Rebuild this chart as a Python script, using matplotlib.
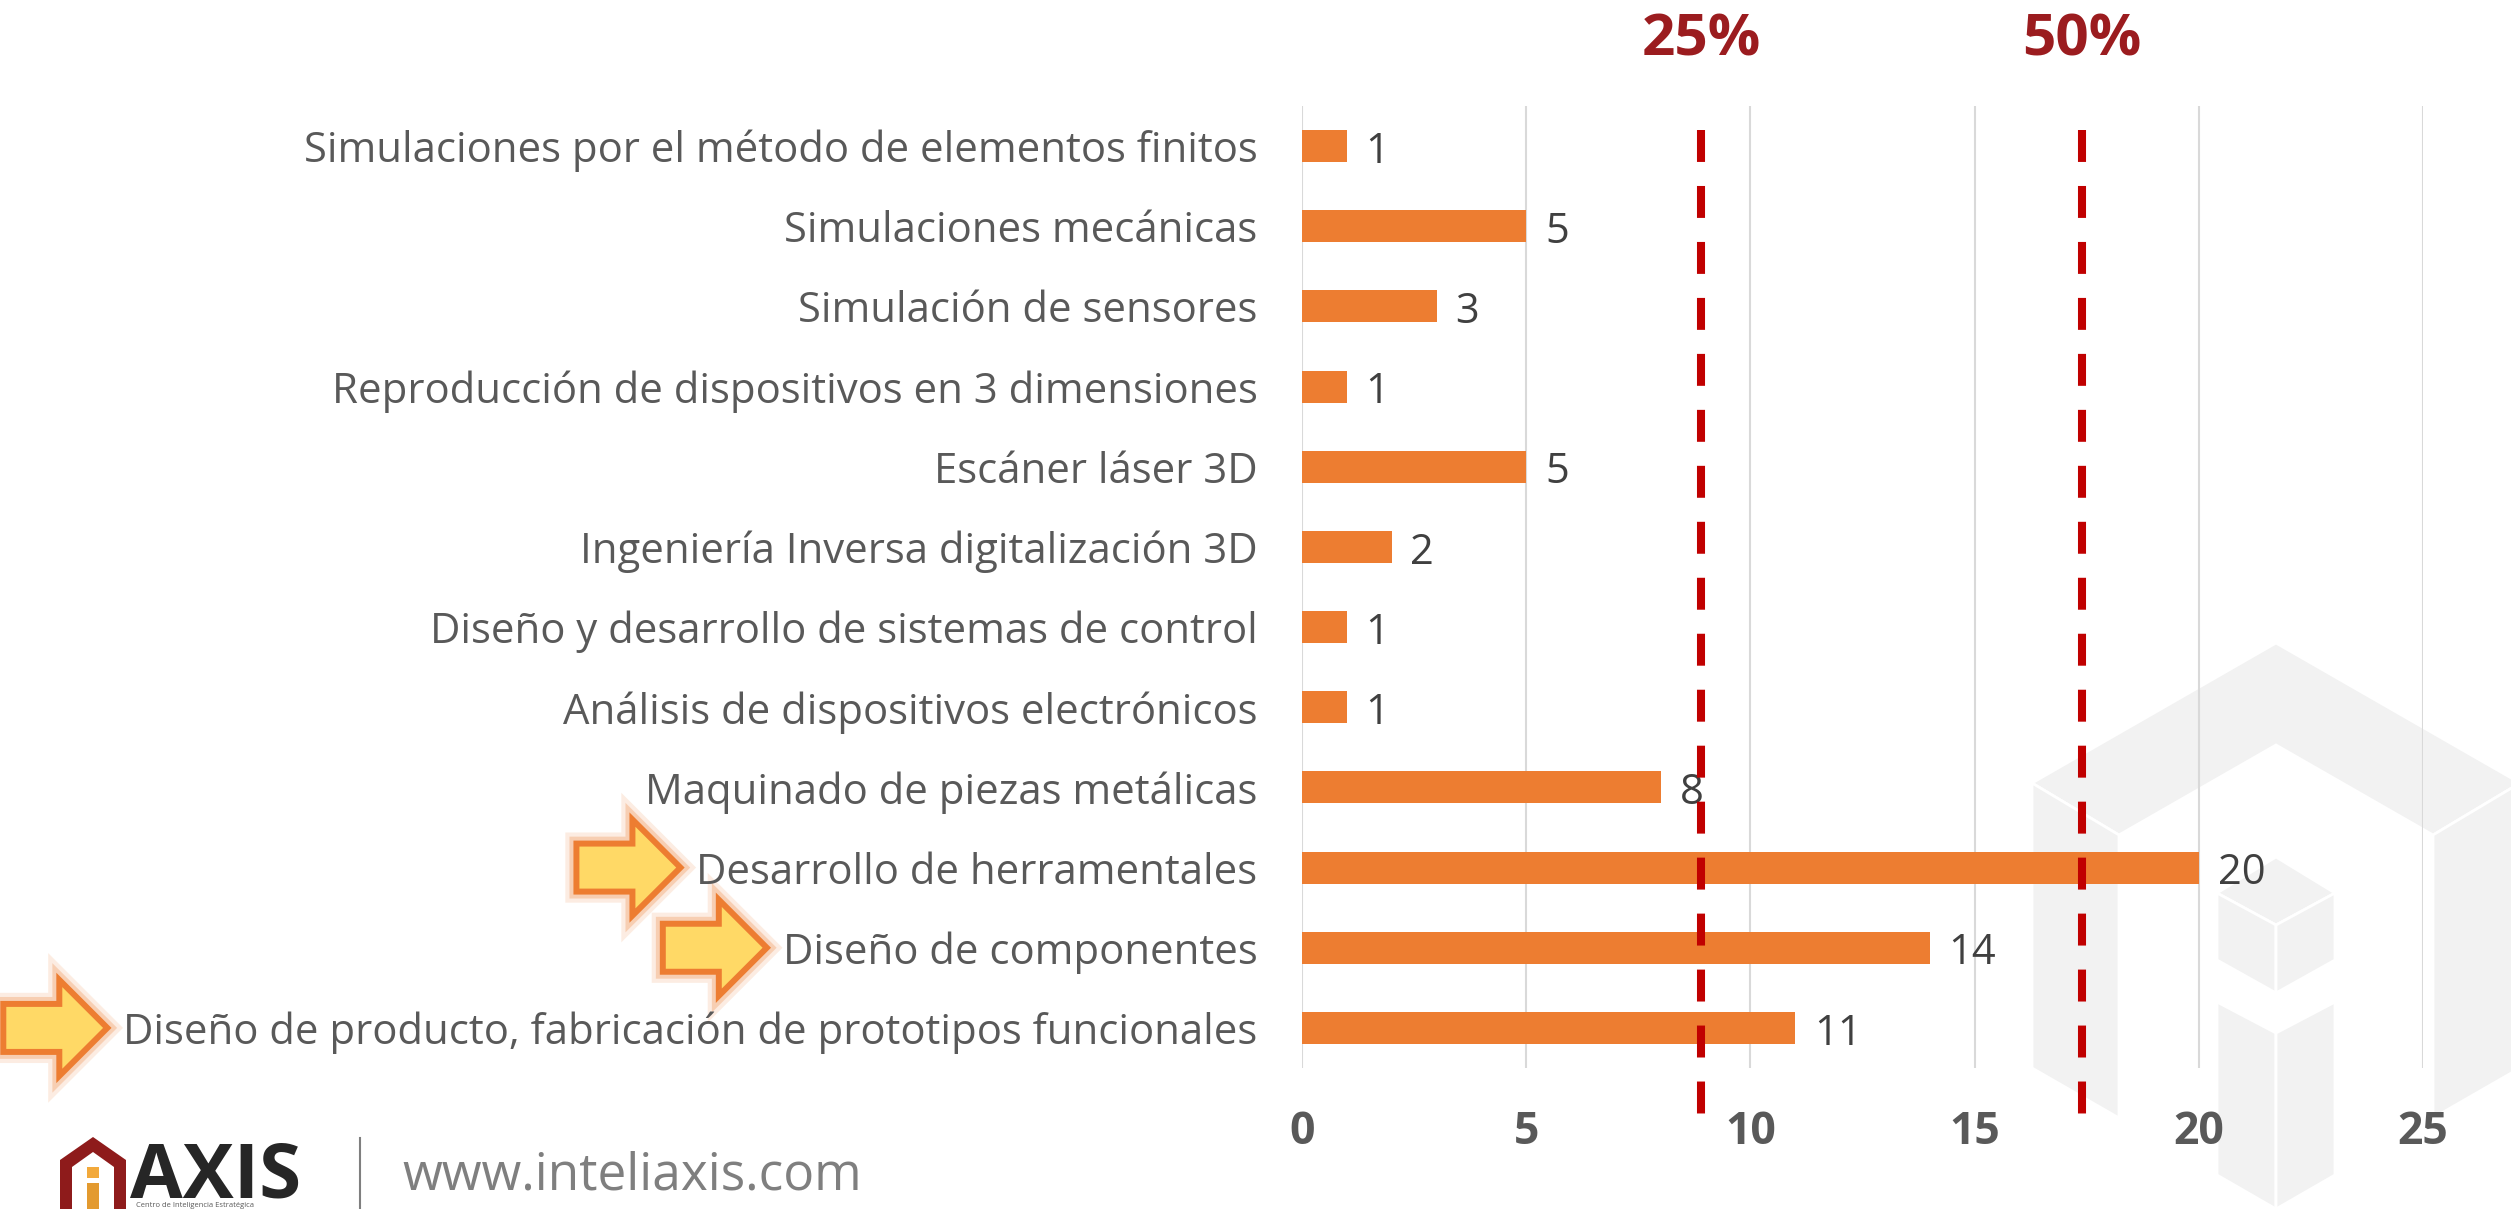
import matplotlib
matplotlib.use('Agg')
import matplotlib.pyplot as plt
from matplotlib.patches import Polygon, Rectangle
import matplotlib.patheffects as pe

plt.rcParams['font.family'] = ['Open Sans', 'DejaVu Sans']
plt.rcParams['lines.scale_dashes'] = False

categories = [
    'Simulaciones por el método de elementos finitos',
    'Simulaciones mecánicas',
    'Simulación de sensores',
    'Reproducción de dispositivos en 3 dimensiones',
    'Escáner láser 3D',
    'Ingeniería Inversa digitalización 3D',
    'Diseño y desarrollo de sistemas de control',
    'Análisis de dispositivos electrónicos',
    'Maquinado de piezas metálicas',
    'Desarrollo de herramentales',
    'Diseño de componentes',
    'Diseño de producto, fabricación de prototipos funcionales',
]
values = [1, 5, 3, 1, 5, 2, 1, 1, 8, 20, 14, 11]
highlighted = [
    'Desarrollo de herramentales',
    'Diseño de componentes',
    'Diseño de producto, fabricación de prototipos funcionales',
]
ref_positions = [8.9, 17.4]
ref_labels = ['25%', '50%']
x_ticks = [0, 5, 10, 15, 20, 25]

W, H = 2511, 1209
dpi = 100
fig = plt.figure(figsize=(W / dpi, H / dpi), dpi=dpi)

# background layer in pixel coords (y down)
bg = fig.add_axes([0, 0, 1, 1], zorder=0)
bg.set_xlim(0, W)
bg.set_ylim(H, 0)
bg.axis('off')

# watermark logo on the right
wm = '#F2F2F2'
shapes = [
    [(2032, 783), (2276, 643), (2520, 783), (2433, 835), (2276, 745), (2119, 835)],
    [(2032, 783), (2119, 835), (2119, 1118), (2032, 1068)],
    [(2433, 835), (2520, 783), (2520, 1068), (2433, 1118)],
    [(2276, 857), (2335, 893), (2276, 925), (2217, 893)],
    [(2217, 893), (2276, 925), (2276, 993), (2217, 960)],
    [(2276, 925), (2335, 893), (2335, 960), (2276, 993)],
    [(2217, 1002), (2276, 1033), (2276, 1209), (2217, 1175)],
    [(2276, 1033), (2335, 1002), (2335, 1175), (2276, 1209)],
]
for s in shapes:
    bg.add_patch(Polygon(s, closed=True, fc=wm, ec='white', lw=2))

# footer logo
bg.add_patch(Polygon([(60, 1160), (93, 1137), (126, 1160), (126, 1209), (60, 1209)],
                     closed=True, fc='#8E1B1B', ec='none'))
bg.add_patch(Polygon([(72, 1167), (93, 1152), (114, 1167), (114, 1209), (72, 1209)],
                     closed=True, fc='white', ec='none'))
bg.add_patch(Rectangle((87, 1167), 12, 11, fc='#F2A93B', ec='none'))
bg.add_patch(Rectangle((87, 1183), 12, 26, fc='#E39A2F', ec='none'))
bg.text(130, 1198, 'AXIS', fontsize=55, fontweight='bold', color='#262626', va='baseline')
bg.text(136, 1207, 'Centro de Inteligencia Estratégica', fontsize=5.5, color='#595959',
        va='baseline')
bg.plot([360, 360], [1138, 1209], color='#7F7F7F', lw=1.5)
bg.text(402, 1190, 'www.inteliaxis.com', fontsize=37, color='#7F7F7F', va='baseline')

# main chart
ax = fig.add_axes([1302 / W, (H - 1068) / H, 1121 / W, 962 / H], zorder=1)
ax.patch.set_alpha(0)
ypos = list(range(len(categories)))
ax.barh(ypos, values, height=0.4, color='#ED7D31', zorder=3)
ax.set_ylim(len(categories) - 0.5, -0.5)
ax.set_xlim(0, 25)
ax.set_xticks(x_ticks)
ax.grid(axis='x', color='#D9D9D9', lw=1.5)
ax.set_axisbelow(True)
for sp in ax.spines.values():
    sp.set_visible(False)
ax.tick_params(length=0)
ax.set_yticks(ypos, categories)
ax.tick_params(axis='y', pad=32, labelsize=28, labelcolor='#595959')
ax.tick_params(axis='x', pad=30, labelsize=32, labelcolor='#595959')
for lab in ax.get_xticklabels():
    lab.set_fontweight('bold')

for i, v in enumerate(values):
    ax.annotate(str(v), (v, i), xytext=(13.5, -12), textcoords='offset points',
                va='baseline', ha='left', fontsize=30, color='#404040')

for xv, lab in zip(ref_positions, ref_labels):
    ax.plot([xv, xv], [0.975, -0.052], transform=ax.get_xaxis_transform(),
            color='#C00000', lw=5.8, dashes=(23, 17.3), clip_on=False, zorder=4)
    ax.text(xv, 1.053, lab, transform=ax.get_xaxis_transform(), ha='center',
            va='baseline', fontsize=42, fontweight='bold', color='#9B1C1F')

# fit category label size to the reference width
fig.canvas.draw()
longest = ax.get_yticklabels()[len(categories) - 1]
w = longest.get_window_extent().width
ax.tick_params(axis='y', labelsize=28 * 1133 / w)
fig.canvas.draw()

# highlight arrows
glow = [pe.Stroke(linewidth=16, foreground='#F8CBAD', alpha=0.35),
        pe.Stroke(linewidth=10, foreground='#F4B183', alpha=0.5), pe.Normal()]
for name in highlighted:
    idx = categories.index(name)
    bb = ax.get_yticklabels()[idx].get_window_extent()
    tip = bb.x0 - 16
    cy = H - ax.transData.transform((0, idx))[1]
    pts = [(tip - 104, cy - 24), (tip - 48, cy - 24), (tip - 48, cy - 48), (tip, cy),
           (tip - 48, cy + 48), (tip - 48, cy + 24), (tip - 104, cy + 24)]
    bg.add_patch(Polygon(pts, closed=True, fc='#FFD966', ec='#ED7D31', lw=4.3,
                         joinstyle='miter', path_effects=glow))

fig.savefig('out.png', dpi=dpi)
